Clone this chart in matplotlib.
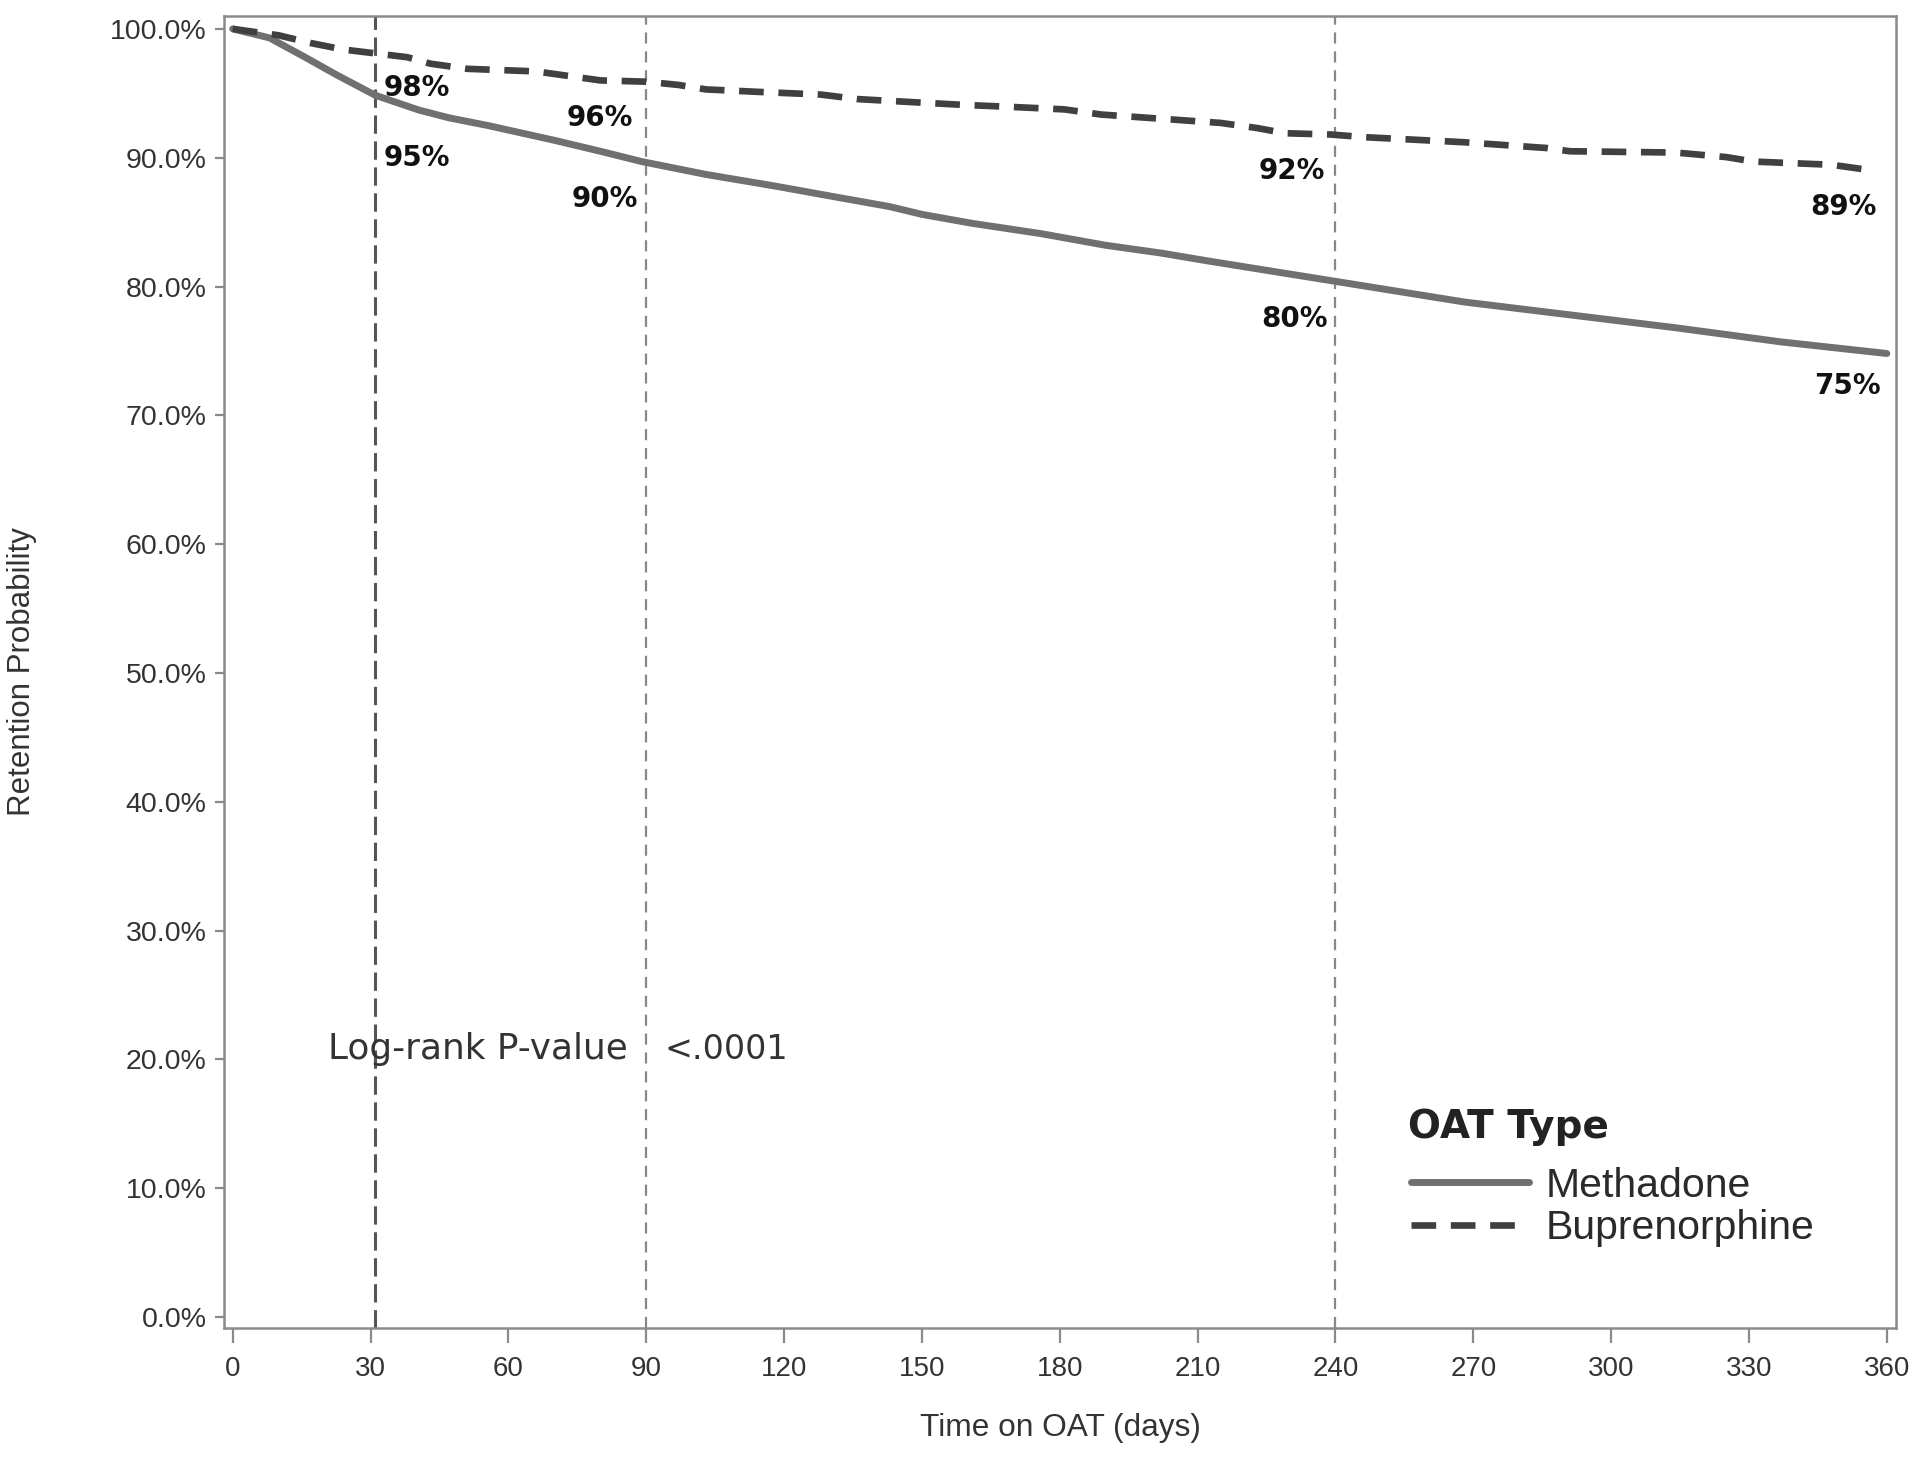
import matplotlib
matplotlib.use("Agg")
import matplotlib.pyplot as plt
import numpy as np

# ---------------- data ----------------
meth_days = [0, 8, 15.5, 22.5, 31, 40.5, 47, 55.5, 70, 80, 89, 103, 118, 132, 143,
             150, 161, 176, 190, 202, 212, 240, 268, 291, 314, 337, 360]
meth_pct = [100, 99.3, 97.85, 96.45, 94.85, 93.7, 93.1, 92.5, 91.35, 90.5, 89.7,
            88.7, 87.8, 86.9, 86.2, 85.6, 84.9, 84.1, 83.2, 82.6, 82.0, 80.4,
            78.8, 77.8, 76.8, 75.7, 74.8]

bup_days = [0, 10, 17, 24, 31, 38, 43, 51, 66, 74, 80, 90, 97, 103, 115, 128, 136,
            146, 159, 169, 181, 189, 199, 215, 223, 229, 239, 246, 268, 286, 291,
            314, 325, 331, 348, 355]
bup_pct = [100, 99.5, 98.9, 98.4, 98.1, 97.8, 97.3, 96.9, 96.7, 96.3, 96.0, 95.9,
           95.65, 95.3, 95.1, 94.9, 94.55, 94.35, 94.1, 93.95, 93.75, 93.35, 93.1,
           92.7, 92.3, 91.9, 91.8, 91.6, 91.2, 90.75, 90.5, 90.4, 90.05, 89.7,
           89.45, 89.1]

series_names = ["Methadone", "Buprenorphine"]
legend_title = "OAT Type"

marker_days = [31, 90, 240]

label_texts = ["98%", "95%", "96%", "90%", "92%", "80%", "89%", "75%"]
label_x = [40, 40, 80, 81, 230.5, 231, 350.5, 351.5]
label_y = [95.4, 90.0, 93.1, 86.8, 89.0, 77.5, 86.2, 72.3]

x_ticks = list(range(0, 361, 30))
y_ticks = list(range(0, 101, 10))

pvalue_label = "Log-rank P-value"
pvalue_text = "<.0001"

# ---------------- figure ----------------
W, H = 1920, 1463
fig = plt.figure(figsize=(W / 100, H / 100), dpi=100)
ax_l, ax_r, ax_t, ax_b = 224, 1896, 16, 1328
ax = fig.add_axes([ax_l / W, 1 - ax_b / H, (ax_r - ax_l) / W, (ax_b - ax_t) / H])


def fx(px):
    return (px - ax_l) / (ax_r - ax_l)


def fy(py):
    return 1 - (py - ax_t) / (ax_b - ax_t)


spine_col = "#8a8a8a"
text_col = "#333333"
sans = ["Liberation Sans", "DejaVu Sans"]

# reference lines
for i, d in enumerate(marker_days):
    if i == 0:
        ax.axvline(d, color="#555555", lw=2.2, ls=(0, (6, 2.5)), zorder=1)
    else:
        ax.axvline(d, color="#888888", lw=1.6, ls=(0, (5, 3.5)), zorder=1)

l1, = ax.plot(meth_days, meth_pct, color="#707070", lw=5.0,
              solid_capstyle="round", solid_joinstyle="round", zorder=3)
l2, = ax.plot(bup_days, bup_pct, color="#404040", lw=4.8,
              ls=(0, (3.7, 2.2)), dash_capstyle="butt", zorder=3)

for t, x, y in zip(label_texts, label_x, label_y):
    ax.text(x, y, t, ha="center", va="center", fontsize=20, fontweight="bold",
            family="DejaVu Sans", color="#111111", zorder=4)

ax.text(20.7, 20.8, pvalue_label, ha="left", va="center", fontsize=25.8,
        family="DejaVu Sans", color=text_col)
ax.text(94.0, 20.8, pvalue_text, ha="left", va="center", fontsize=24,
        family="DejaVu Sans", color=text_col)

ax.set_xlim(-1.9, 362.0)
ax.set_ylim(-0.85, 101.0)
ax.set_xticks(x_ticks)
ax.set_xticklabels([str(v) for v in x_ticks])
ax.set_yticks(y_ticks)
ax.set_yticklabels([f"{v:.1f}%" for v in y_ticks])

for s in ax.spines.values():
    s.set_color(spine_col)
    s.set_linewidth(1.8)

ax.tick_params(axis="x", length=10.5, width=1.6, color=spine_col, pad=10,
               labelsize=20, labelcolor=text_col)
ax.tick_params(axis="y", length=6.5, width=1.6, color=spine_col, pad=6,
               labelsize=20.5, labelcolor=text_col)
for lab in ax.get_xticklabels() + ax.get_yticklabels():
    lab.set_family(sans)

ax.set_xlabel("Time on OAT (days)", fontsize=22.8, family=sans, color=text_col)
ax.set_ylabel("Retention Probability", fontsize=22.5, family=sans, color=text_col)
ax.xaxis.set_label_coords(0.5, fy(1428))
ax.yaxis.set_label_coords(fx(22), 0.5)
ax.xaxis.label.set_va("center")
ax.yaxis.label.set_va("center")

leg = ax.legend([l1, l2], series_names, loc="center left",
                bbox_to_anchor=(fx(1411), fy(1207)),
                frameon=False, prop={"family": sans, "size": 29.5},
                handlelength=2.87, handletextpad=0.42, labelspacing=0.12,
                borderpad=0, borderaxespad=0)
for t in leg.get_texts():
    t.set_color("#2a2a2a")

ax.text(fx(1408), fy(1127), legend_title, transform=ax.transAxes, ha="left",
        va="center", fontsize=28, fontweight="bold", family="DejaVu Sans",
        color="#222222")

fig.savefig("out.png", dpi=100, facecolor="white")
